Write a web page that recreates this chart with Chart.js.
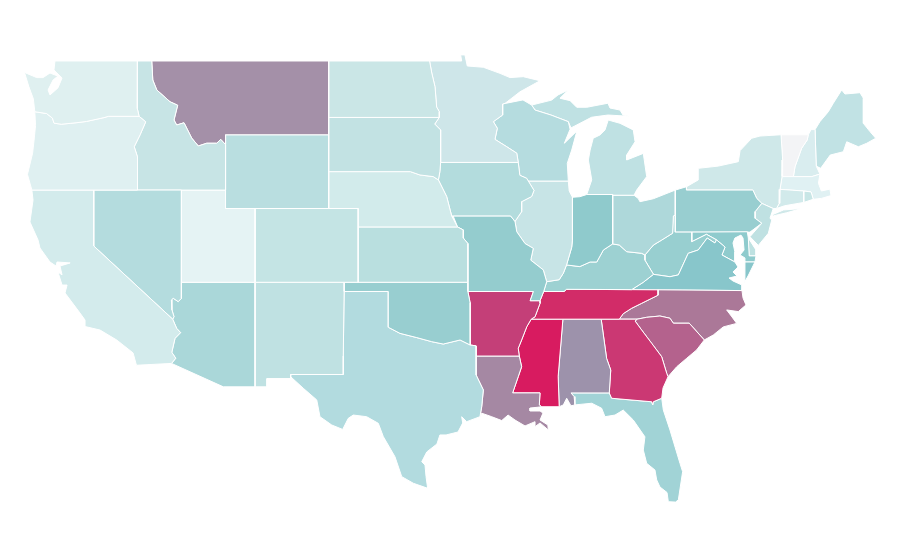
<!DOCTYPE html>
<html>
<head>
<meta charset="utf-8">
<title>US states choropleth</title>
<style>html,body{margin:0;padding:0;background:#fff}canvas{display:block}</style>
<script src="https://cdn.jsdelivr.net/npm/chart.js@4/dist/chart.umd.min.js"></script>
</head>
<body>
<canvas id="map" width="900" height="560"></canvas>
<script>
// State outlines, as flat longitude,latitude lists.
const WA=[-122.63,49,-117.03,49,-117.04,46.42,-116.92,46,-119,46,-119.3,45.93,-120.5,45.72,-121.2,45.65,-122.2,45.57,-122.7,45.63,-122.8,45.9,-123.2,46.15,-124,46.25,-124.1,46.95,-124.4,47.6,-124.7,48.38,-123.87,48.1,-123.44,48.1,-122.97,48.35,-122.43,48.18,-122.76,47.97,-123.1,47.43,-122.97,47.16,-122.43,47.54,-122.15,48.08,-122.7,48.51];
const OR=[-124,46.25,-123.2,46.15,-122.8,45.9,-122.7,45.63,-122.2,45.57,-121.2,45.65,-120.5,45.72,-119.3,45.93,-119,46,-116.92,46,-116.47,45.7,-116.85,45,-117.25,44.35,-117.03,43.8,-117.03,42,-124.2,42,-124.5,42.85,-124.15,44,-124.05,44.7,-123.95,45.5];
const CA=[-124.2,42,-120,42,-120,38.97,-114.64,35,-114.37,34.5,-114.1,34.27,-114.48,33.96,-114.7,33.2,-114.43,32.88,-114.72,32.6,-117.1,32.5,-117.33,33.17,-118.44,33.87,-119.57,34.41,-120.59,34.6,-120.59,34.95,-120.93,35.33,-121.95,36.42,-121.81,36.85,-122.15,36.85,-122.43,37.56,-122.15,37.4,-122.29,37.88,-121.6,38.05,-122.49,38.1,-122.56,37.88,-122.97,38.1,-123.65,38.86,-123.78,39.29,-124.33,40.27,-124.12,41.46];
const NV=[-120,42,-114.04,42,-114.05,36.13,-114.26,35.95,-114.6,36.13,-114.73,36.04,-114.69,35.5,-114.55,35.13,-114.64,35,-120,38.97];
const ID=[-117.03,49,-116.06,49,-115.99,47.97,-115.72,47.43,-114.82,46.79,-114.3,46.6,-114.55,45.8,-114.37,45.53,-113.87,45.65,-113.35,44.82,-112.9,44.39,-112.33,44.54,-111.65,44.54,-111.38,44.75,-111.05,44.47,-111.05,42,-117.03,42,-117.03,43.8,-117.25,44.35,-116.85,45,-116.47,45.7,-116.92,46,-117.04,46.42];
const MT=[-116.06,49,-104.05,49,-104.05,45,-111.05,45,-111.05,44.47,-111.38,44.75,-111.65,44.54,-112.33,44.54,-112.9,44.39,-113.35,44.82,-113.87,45.65,-114.37,45.53,-114.55,45.8,-114.3,46.6,-114.82,46.79,-115.72,47.43,-115.99,47.97];
const WY=[-111.05,45,-104.05,45,-104.05,41,-111.05,41];
const UT=[-114.04,42,-111.05,42,-111.05,41,-109.05,41,-109.05,37,-114.05,37];
const CO=[-109.05,41,-102.05,41,-102.05,37,-109.05,37];
const AZ=[-114.05,37,-109.05,37,-109.05,31.33,-111.2,31.33,-114.72,32.6,-114.43,32.88,-114.7,33.2,-114.48,33.96,-114.1,34.27,-114.37,34.5,-114.64,35,-114.55,35.13,-114.69,35.5,-114.73,36.04,-114.6,36.13,-114.26,35.95,-114.05,36.13];
const NM=[-109.05,37,-103,37,-103,36.5,-103.06,33,-103.06,32,-106.63,32,-106.63,31.78,-108.24,31.78,-108.24,31.33,-109.05,31.33];
const ND=[-104.05,49,-97.2,49,-97.05,48.35,-96.83,47.6,-96.72,46.5,-96.54,46.25,-96.54,45.94,-104.05,45.94];
const SD=[-104.05,45.94,-96.54,45.94,-96.85,45.58,-96.45,45.26,-96.45,43.5,-96.5,43,-96.6,42.55,-96.95,42.73,-97.85,42.82,-98.5,43,-104.05,43];
const NE=[-104.05,43,-98.5,43,-97.85,42.82,-96.95,42.73,-96.6,42.55,-96.04,41.65,-95.7,40.6,-95.3,40,-102.05,40,-102.05,41,-104.05,41];
const KS=[-102.05,40,-95.3,40,-94.91,39.84,-94.91,39.4,-94.6,39.1,-94.6,37,-102.05,37];
const OK=[-103,37,-94.6,37,-94.6,36.5,-94.45,35.9,-94.43,33.6,-94.45,33.6,-95.13,33.87,-96.27,33.65,-97.06,33.78,-98.07,34,-99.21,34.23,-100,34.56,-100,36.5,-103,36.5];
const TX=[-103,36.5,-100,36.5,-100,34.56,-99.21,34.23,-98.07,34,-97.06,33.78,-96.27,33.65,-95.13,33.87,-94.45,33.6,-94.04,33.55,-94.04,33,-94.04,31.97,-93.55,31.16,-93.66,30.25,-93.78,29.71,-94.68,29.44,-95.02,29.71,-94.95,29.37,-95.27,28.88,-96.08,28.72,-96.5,28.72,-96.7,28.23,-97.39,27.8,-97.73,27.27,-97.51,27.09,-97.44,26.46,-97.33,25.83,-98.3,26.1,-99.09,26.46,-99.55,27.54,-100.34,28.63,-100.68,29.35,-101.47,29.71,-102.38,29.8,-102.72,29.62,-103.1,29.02,-103.84,29.26,-104.64,29.71,-104.86,30.62,-105.77,31.25,-106.63,31.88,-106.63,32,-103.06,32,-103.06,33];
const MN=[-97.2,49,-95.02,49,-95.09,49.33,-94.8,49.33,-94.64,48.73,-93.55,48.66,-92.42,48.33,-91.74,48.1,-90.84,48.15,-89.7,47.93,-91.06,47.33,-92.08,46.7,-92.24,46.67,-92.24,46.07,-92.87,45.71,-92.6,45.35,-92.76,44.75,-91.96,44.35,-91.28,44,-91.18,43.5,-96.45,43.5,-96.45,45.26,-96.85,45.58,-96.54,45.94,-96.54,46.25,-96.72,46.5,-96.83,47.6,-97.05,48.35];
const IA=[-96.45,43.5,-91.18,43.5,-91.07,42.8,-90.61,42.64,-90.11,41.98,-90.27,41.65,-90.95,41.37,-90.95,40.83,-91.4,40.3,-91.7,40.6,-95.6,40.6,-95.7,40.6,-96.04,41.65,-96.6,42.55,-96.5,43];
const MO=[-95.6,40.6,-91.7,40.6,-91.4,40.3,-91.28,39.74,-90.72,39.1,-90.16,38.84,-90.33,38.2,-89.48,37.67,-89.25,37.03,-89.45,36.5,-89.7,36,-90.37,36,-90.15,36.5,-94.6,36.5,-94.6,39.1,-94.91,39.4,-94.91,39.84,-95.3,40];
const AR=[-94.6,36.5,-90.15,36.5,-90.37,36,-89.7,36,-89.7,35.86,-90.04,35.13,-90.3,35,-90.6,34.59,-90.95,33.87,-91.18,33.42,-91.11,33,-94.04,33,-94.04,33.55,-94.43,33.6,-94.45,35.9];
const LA=[-94.04,33,-91.11,33,-90.95,32.42,-91.18,31.88,-91.56,31,-89.7,31,-89.75,30.35,-89.6,30.25,-89.9,30.22,-90.38,30.18,-90.38,30.02,-89.7,30.02,-89.5,29.91,-89.7,29.53,-89.17,29.26,-89.14,28.99,-89.7,29.37,-90.04,29.17,-90.04,29.44,-90.72,29.21,-91.4,29.53,-91.87,29.8,-92.3,29.5,-92.98,29.71,-93.66,29.9,-93.78,29.71,-93.66,30.25,-93.55,31.16,-94.04,31.97];
const WI=[-92.24,46.67,-90.86,46.89,-90.27,46.61,-90.04,46.34,-88.96,46.07,-87.78,45.71,-87.66,45.3,-88.05,44.54,-87.2,45.2,-87.55,44.17,-87.85,43.45,-87.78,42.49,-90.5,42.49,-90.61,42.64,-91.07,42.8,-91.18,43.5,-91.28,44,-91.96,44.35,-92.76,44.75,-92.6,45.35,-92.87,45.71,-92.24,46.07];
const IL=[-90.5,42.49,-87.78,42.49,-87.72,41.95,-87.5,41.61,-87.5,39.3,-87.55,38.9,-87.9,37.94,-88.12,37.49,-88.4,37.14,-89.25,37.03,-89.48,37.67,-90.33,38.2,-90.16,38.84,-90.72,39.1,-91.28,39.74,-91.4,40.3,-90.95,40.83,-90.95,41.37,-90.27,41.65,-90.11,41.98];
const IN=[-87.5,41.61,-87,41.64,-86.53,41.76,-84.77,41.76,-84.77,39.08,-85.4,38.75,-85.85,38.1,-86.3,38.1,-87,37.85,-87.9,37.94,-87.55,38.9,-87.5,39.3];
const MI_UPPER=[-90.27,46.61,-88.91,46.88,-88.48,47.16,-87.78,47.43,-88.35,46.98,-87.66,46.85,-87.21,46.49,-86.53,46.49,-85.09,46.71,-84.95,46.45,-84.27,46.34,-84.07,46.07,-83.6,46,-85.09,46.07,-86.2,45.95,-86.99,45.62,-87.6,45.37,-87.78,45.71,-88.96,46.07,-90.04,46.34];
const MI_LOWER=[-86.53,41.76,-86.19,42.55,-86.42,43.63,-86.3,44.17,-86.09,44.81,-85.63,44.99,-85.29,45.26,-85.07,45.8,-84.27,45.62,-83.37,45.26,-83.25,44.62,-83.82,43.9,-83.82,43.63,-82.69,43.99,-82.46,42.73,-83.14,42,-83.32,41.72,-84.77,41.72];
const OH=[-84.77,41.72,-83.32,41.72,-83.03,41.54,-82.92,41.37,-82.01,41.53,-80.52,42,-80.52,40.64,-80.65,40.6,-80.7,39.66,-81.44,39.29,-82,39.02,-82.58,38.48,-82.8,38.57,-83.82,38.66,-84.32,39.02,-84.77,39.08];
const KY=[-89.45,36.5,-89.25,37.03,-88.4,37.14,-88.12,37.49,-87.9,37.94,-87,37.85,-86.3,38.1,-85.85,38.1,-85.4,38.75,-84.77,39.08,-84.32,39.02,-83.82,38.66,-82.8,38.57,-82.58,38.48,-82.58,38.2,-82,37.43,-82.69,37,-83.48,36.6,-87.9,36.62,-88.07,36.5];
const TN=[-89.45,36.5,-88.07,36.5,-87.9,36.62,-83.48,36.6,-81.69,36.59,-81.69,36.3,-82.8,35.86,-83.48,35.59,-84.05,35.3,-84.32,35,-90.3,35,-90.04,35.13,-89.7,35.86,-89.7,36];
const MS=[-90.3,35,-88.15,35,-88.47,31.9,-88.4,30.25,-89.6,30.25,-89.75,30.35,-89.7,31,-91.56,31,-91.18,31.88,-90.95,32.42,-91.11,33,-91.18,33.42,-90.95,33.87,-90.6,34.59];
const AL=[-88.15,35,-85.55,35,-85.18,32.87,-84.9,32.24,-85,31,-87.6,31,-87.39,30.8,-87.33,30.35,-87.6,30.3,-87.89,30.71,-88.12,30.35,-88.4,30.25,-88.47,31.9];
const GA=[-85.55,35,-83.1,35,-83.25,34.9,-82.8,34.41,-82.12,33.69,-81.44,32.96,-81.1,32.06,-81.01,31.88,-81.35,31.27,-81.44,30.71,-82.01,30.52,-82.05,30.35,-82.12,30.52,-84.84,30.71,-85,31,-84.9,32.24,-85.18,32.87];
const FL=[-87.6,31,-85,31,-84.84,30.71,-82.12,30.52,-82.05,30.35,-82.01,30.52,-81.44,30.71,-81.33,30.07,-80.88,28.99,-80.2,27.18,-80.02,26.73,-80.31,25.2,-80.5,25.08,-80.99,25.1,-81.08,25.6,-81.56,25.9,-81.78,26.28,-81.9,26.82,-82.46,27.18,-82.69,27.9,-82.58,28.62,-83.37,29.53,-84.05,30.07,-84.61,29.8,-85.29,29.71,-85.52,30.17,-86.19,30.44,-87.33,30.35,-87.39,30.8];
const SC=[-83.1,35,-82.46,35.1,-81.56,35.17,-80.88,35.05,-80.65,34.78,-79.57,34.78,-78.55,33.87,-79.07,33.33,-79.74,32.88,-80.42,32.42,-81.01,31.88,-81.1,32.06,-81.44,32.96,-82.12,33.69,-82.8,34.41,-83.25,34.9];
const NC=[-81.69,36.59,-75.99,36.55,-75.92,36.15,-75.72,35.77,-76.24,35.41,-77.03,35.5,-76.67,35.12,-76.35,34.77,-77.26,34.58,-77.94,34.14,-78.55,33.87,-79.57,34.78,-80.65,34.78,-80.88,35.05,-81.56,35.17,-82.46,35.1,-83.1,35,-84.32,35,-84.05,35.3,-83.48,35.59,-82.8,35.86,-81.69,36.3];
const VA=[-83.48,36.6,-82.69,37,-82,37.43,-80.88,37.3,-80.31,37.4,-79.64,38.57,-78.96,38.75,-78.35,39.4,-77.83,39.13,-77.72,39.3,-77.14,38.91,-77.35,38.48,-76.47,38.1,-76.26,37.83,-76.6,37.56,-76.33,37.34,-76.87,37.23,-76.6,37.07,-75.99,36.85,-75.99,36.55,-81.69,36.59];
const VA_SHORE=[-75.79,38.1,-75.11,38.1,-75.58,37.34,-75.85,36.96,-75.79,37.77];
const WV=[-80.52,40.64,-80.52,39.72,-79.4,39.72,-79.4,39.2,-78.4,39.6,-77.72,39.3,-77.83,39.13,-78.35,39.4,-78.96,38.75,-79.64,38.57,-80.31,37.4,-80.88,37.3,-82,37.43,-82.58,38.2,-82.58,38.48,-82,39.02,-81.44,39.29,-80.7,39.66,-80.65,40.6];
const MD=[-79.4,39.72,-75.63,39.74,-75.56,39.4,-75.5,38.43,-75.04,38.43,-75.11,38.1,-75.79,38.1,-75.79,38.32,-76.12,38.48,-75.85,38.75,-75.92,39.4,-76.06,39.56,-76.47,39.4,-76.6,39.13,-76.47,38.64,-76.47,38.1,-77.35,38.48,-77.14,38.91,-77.72,39.3,-78.4,39.6,-79.4,39.2];
const DE=[-75.63,39.74,-75.56,39.4,-75.04,38.75,-75.04,38.43,-75.5,38.43];
const PA=[-80.52,42,-79.76,42.18,-79.76,42,-75.25,42,-74.99,41.55,-74.65,41.28,-75.1,40.83,-75.1,40.47,-74.65,40.2,-75.45,39.72,-80.52,39.72];
const NJ=[-74.65,41.28,-73.87,41,-74.09,40.47,-73.97,40.38,-74.2,39.66,-74.88,39,-75.45,39.47,-74.65,40.2,-75.1,40.47,-75.1,40.83];
const NY=[-79.76,42.18,-78.96,42.55,-78.96,43.18,-77.6,43.3,-76.24,43.54,-76.12,44.14,-75.33,44.81,-74.77,44.93,-73.34,45,-73.23,43.63,-73.27,42.73,-73.41,42.04,-73.46,41.28,-73.65,41,-73.87,41,-74.65,41.28,-74.99,41.55,-75.25,42,-79.76,42];
const NY_ISLAND=[-73.97,40.65,-73.18,40.92,-71.94,41,-72.96,40.77,-73.87,40.6];
const CT=[-73.41,42.04,-71.8,41.95,-71.8,41.33,-73.1,41.15,-73.65,41,-73.46,41.28];
const RI=[-71.8,41.95,-71.3,41.9,-71.15,41.5,-71.8,41.33];
const MA=[-73.41,42.04,-73.27,42.73,-71.25,42.73,-70.7,42.87,-70.8,42.37,-70.6,41.95,-70.02,42.05,-69.95,41.7,-70.6,41.55,-71.15,41.5,-71.3,41.9,-71.8,41.95];
const VT=[-73.34,45,-71.49,45,-71.56,44.72,-71.94,44.27,-72.39,43.27,-72.5,42.73,-73.27,42.73,-73.23,43.63];
const NH=[-71.49,45,-71.3,45.28,-71.03,45.28,-70.95,43.3,-70.7,42.87,-71.25,42.73,-72.5,42.73,-72.39,43.27,-71.94,44.27,-71.56,44.72];
const ME=[-71.03,45.28,-70.7,45.71,-70.13,46.25,-69.79,46.71,-69.22,47.43,-69,47.21,-67.98,47.28,-67.75,46.98,-67.75,45.62,-67.3,45.17,-66.91,44.81,-67.52,44.54,-68.09,44.35,-68.88,44.62,-69.11,44.08,-70,43.9,-70.65,43.18,-70.95,43.3];

const regions=[['Washington',WA],['Oregon',OR],['California',CA],['Nevada',NV],['Idaho',ID],['Montana',MT],['Wyoming',WY],['Utah',UT],['Colorado',CO],['Arizona',AZ],['New Mexico',NM],['North Dakota',ND],['South Dakota',SD],['Nebraska',NE],['Kansas',KS],['Oklahoma',OK],['Texas',TX],['Minnesota',MN],['Iowa',IA],['Missouri',MO],['Arkansas',AR],['Louisiana',LA],['Wisconsin',WI],['Illinois',IL],['Indiana',IN],['Michigan',MI_UPPER],['Michigan',MI_LOWER],['Ohio',OH],['Kentucky',KY],['Tennessee',TN],['Mississippi',MS],['Alabama',AL],['Georgia',GA],['Florida',FL],['South Carolina',SC],['North Carolina',NC],['Virginia',VA],['Virginia',VA_SHORE],['West Virginia',WV],['Maryland',MD],['Delaware',DE],['Pennsylvania',PA],['New Jersey',NJ],['New York',NY],['New York',NY_ISLAND],['Connecticut',CT],['Rhode Island',RI],['Massachusetts',MA],['Vermont',VT],['New Hampshire',NH],['Maine',ME]];

const stateColors={'Washington':'#dff0f0','Oregon':'#dff0f1','California':'#d3ebec','Nevada':'#b4dcde','Idaho':'#c7e4e5','Montana':'#a490a8','Wyoming':'#b9dee0','Utah':'#e5f3f4','Colorado':'#c4e4e4','Arizona':'#aad7d9','New Mexico':'#bfe1e2','North Dakota':'#cae6e6','South Dakota':'#c2e2e3','Nebraska':'#d2ebeb','Kansas':'#b9dfdf','Oklahoma':'#98ced0','Texas':'#b2dbdf','Minnesota':'#cee6e9','Iowa':'#b3dcdd','Missouri':'#94ccce','Arkansas':'#c43f78','Louisiana':'#a588a3','Wisconsin':'#b5dcdf','Illinois':'#c7e4e6','Indiana':'#8fcacc','Michigan':'#bfe1e3','Ohio':'#aed8da','Kentucky':'#9dd1d2','Tennessee':'#d22c68','Mississippi':'#d81b60','Alabama':'#9d92ab','Georgia':'#cb3873','Florida':'#a1d3d6','South Carolina':'#b4628d','North Carolina':'#ab7898','Virginia':'#88c6cb','West Virginia':'#98cfd0','Maryland':'#8fcbcd','Delaware':'#bee1e1','Pennsylvania':'#98ced0','New Jersey':'#bfe1e2','New York':'#cfe8e9','Connecticut':'#d2eaeb','Rhode Island':'#c8e6e6','Massachusetts':'#e0f1f3','Vermont':'#f3f4f6','New Hampshire':'#d9edef','Maine':'#c1e2e4'};

function toPoints(flat){
  const pts=[];
  for(let i=0;i<flat.length;i+=2) pts.push({x:flat[i],y:flat[i+1]});
  pts.push({x:flat[0],y:flat[1]});
  return pts;
}

new Chart(document.getElementById('map'),{
  type:'scatter',
  data:{datasets:regions.map(([name,outline])=>({
    label:name,
    data:toPoints(outline),
    showLine:true,
    fill:'shape',
    backgroundColor:stateColors[name],
    borderColor:'#ffffff',
    borderWidth:1,
    borderJoinStyle:'round',
    pointRadius:0,
    pointHoverRadius:0,
    tension:0
  }))},
  options:{
    responsive:false,
    animation:false,
    layout:{padding:0},
    plugins:{legend:{display:false},tooltip:{enabled:false}},
    events:[],
    scales:{
      x:{type:'linear',display:false,min:-126.363,max:-65.263},
      y:{type:'linear',display:false,min:21.939,max:52.308}
    }
  }
});
</script>
</body>
</html>
